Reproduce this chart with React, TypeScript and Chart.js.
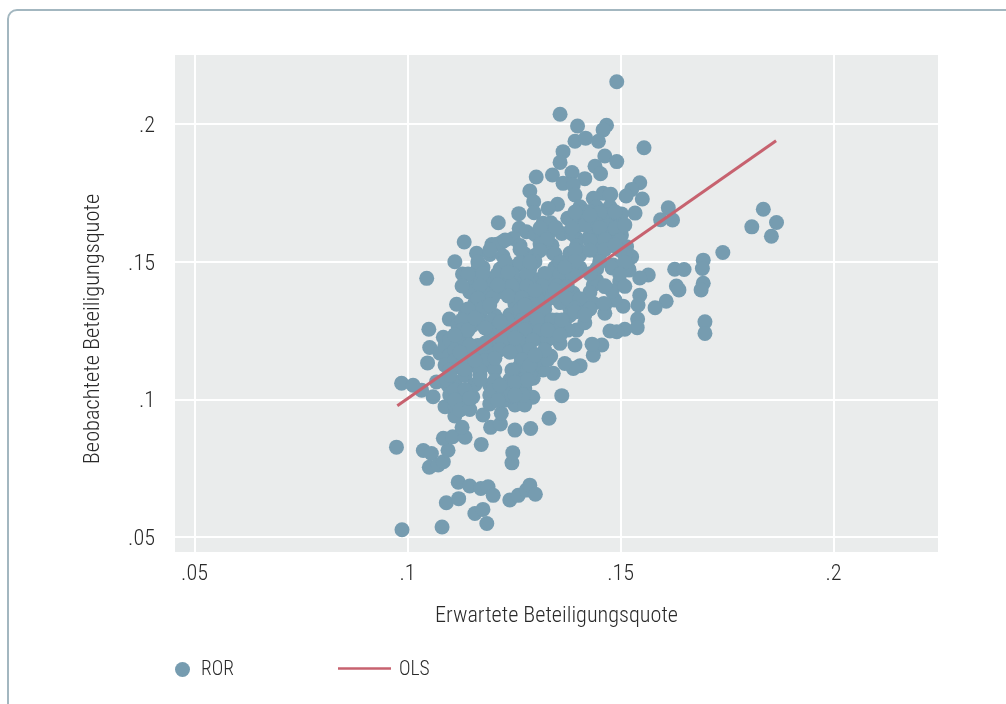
import React, { useEffect, useRef } from "react";
import { Chart, registerables } from "chart.js";

Chart.register(...registerables);

const FONT = '"Roboto Condensed", Roboto, sans-serif';
const DOT = "#769cb0";
const LINE = "#c7626f";
const INK = "#2a2a2a";

const xTicks = [0.05, 0.1, 0.15, 0.2];
const yTicks = [0.05, 0.1, 0.15, 0.2];
const xTitle = "Erwartete Beteiligungsquote";
const yTitle = "Beobachtete Beteiligungsquote";

const upperX = [.1491,.1358,.1399,.1467,.1459,.1393,.1418,.1448,.1555,.1365,.1358,.1463,.1491,.1440,.1453,.1302,.1340,.1386,.1416,.1365,.1389,.1545,.1526,.1513,.1551,.1287,.1393,.1459,.1477,.1436,.1296,.1352,.1330,.1534,.1502,.1261,.1297,.1612,.1594,.1622,.1213,.1133,.1111,.1162,.1198,.1222,.1262,.1318,.1336,.1376,.1405,.1420,.1443,.1475,.1482,.1502,.1514,.1526,.1397,.1362,.1279,.1248,.1166,.1129,.1045,.1494,.1475];
const upperY = [.2155,.2037,.1994,.1997,.1980,.1939,.1950,.1939,.1915,.1901,.1862,.1885,.1865,.1848,.1821,.1809,.1816,.1825,.1803,.1786,.1780,.1788,.1764,.1740,.1729,.1758,.1744,.1750,.1746,.1732,.1719,.1710,.1695,.1678,.1675,.1676,.1679,.1697,.1654,.1653,.1643,.1573,.1501,.1532,.1564,.1573,.1623,.1641,.1643,.1659,.1701,.1677,.1701,.1701,.1641,.1598,.1556,.1519,.1586,.1604,.1610,.1586,.1481,.1457,.1441,.1628,.1744];

const rightX = [.1835,.1866,.1808,.1854,.1740,.1694,.1692,.1694,.1689,.1631,.1637,.1607,.1581,.1698,.1698,.1627,.1649,.1565,.1545,.1518,.1482,.1545,.1541,.1540,.1539,.1510,.1491,.1475,.1456,.1506,.1487,.1463,.1463,.1463,.1498,.1520,.1522];
const rightY = [.1692,.1644,.1628,.1594,.1535,.1507,.1477,.1423,.1399,.1413,.1399,.1358,.1334,.1283,.1241,.1474,.1473,.1453,.1442,.1477,.1489,.1380,.1344,.1293,.1262,.1256,.1247,.1250,.1199,.1340,.1362,.1344,.1411,.1314,.1429,.1471,.1522];

const midX = [.1381,.1342,.1404,.1336,.1322,.1358,.1393,.1436,.1433,.1405,.1389,.1369,.1342,.1318,.1295,.1275,.1294,.1397,.1416,.1416,.1436,.1461,.1389,.1381,.1350,.1436];
const midY = [.1532,.1532,.1526,.1159,.1211,.1205,.1199,.1162,.1202,.1124,.1114,.1132,.1096,.1108,.1078,.1041,.1009,.1253,.1280,.1338,.1350,.1350,.1387,.1332,.1290,.1417];

const lowerX = [.0974,.0987,.1081,.1091,.1120,.1119,.1146,.1172,.1189,.1201,.1158,.1177,.1186,.1240,.1260,.1279,.1287,.1300,.1245,.1247,.1173,.1037,.1056,.1051,.1072,.1084,.1095,.1084,.1106,.1135,.1128,.1252,.1289,.1332,.1362,.1195,.1218,.1111,.1088,.1060,.1033,.1139,.1177,.1220,.1252,.1275,.1271,.1193,.1232,.1123,.1153];
const lowerY = [.0828,.0528,.0538,.0626,.0641,.0701,.0687,.0678,.0684,.0653,.0587,.0602,.0551,.0636,.0653,.0672,.0690,.0657,.0771,.0808,.0838,.0816,.0805,.0755,.0763,.0775,.0817,.0860,.0866,.0864,.0900,.0890,.0896,.0933,.1015,.0900,.0912,.0941,.0975,.1011,.1035,.0975,.0945,.0951,.0981,.0981,.1017,.1017,.0999,.1006,.1010];

const leftX = [.0986,.1013,.1047,.1052,.1050,.1084,.1098,.1115,.1146,.1135,.1076,.1107,.1068,.1111];
const leftY = [.1060,.1053,.1134,.1190,.1256,.1227,.1293,.1347,.1396,.1290,.1169,.1114,.1065,.1065];

const coreTopX = [.1299,.1329,.1386,.1428,.1463,.1494,.1210,.1264,.1311,.1339,.1397,.1444,.1480,.1193,.1224,.1275,.1299,.1346,.1381,.1451,.1510,.1177,.1217,.1252,.1287,.1346,.1381,.1404,.1444,.1480,.1510,.1400,.1430,.1455,.1470,.1460];
const coreTopY = [.1600,.1596,.1603,.1595,.1600,.1592,.1565,.1560,.1566,.1561,.1558,.1563,.1560,.1528,.1522,.1529,.1524,.1530,.1522,.1527,.1524,.1480,.1475,.1482,.1476,.1480,.1474,.1480,.1476,.1479,.1475,.1634,.1630,.1640,.1670,.1598];

const coreMidX = [.1158,.1193,.1229,.1264,.1299,.1334,.1369,.1393,.1444,.1146,.1182,.1217,.1252,.1287,.1322,.1358,.1428,.1480,.1158,.1193,.1252,.1287,.1322,.1358,.1389,.1135,.1170,.1205,.1240,.1275,.1311,.1381,.1118,.1151,.1189,.1224,.1259,.1294,.1329,.1358];
const coreMidY = [.1436,.1432,.1438,.1434,.1437,.1433,.1436,.1462,.1434,.1392,.1388,.1393,.1390,.1394,.1389,.1392,.1390,.1395,.1351,.1354,.1349,.1352,.1350,.1353,.1348,.1308,.1310,.1306,.1309,.1307,.1310,.1306,.1272,.1269,.1273,.1270,.1272,.1269,.1271,.1273];

const coreLowX = [.1111,.1135,.1205,.1240,.1275,.1311,.1088,.1123,.1165,.1198,.1236,.1275,.1099,.1135,.1170,.1205,.1264,.1299,.1088,.1123,.1158,.1193,.1264,.1299,.1099,.1135,.1170,.1252,.1287,.1095,.1158,.1193,.1229,.1099,.1217,.1245,.1111,.1193];
const coreLowY = [.1236,.1233,.1237,.1234,.1236,.1233,.1198,.1201,.1197,.1200,.1198,.1201,.1162,.1164,.1160,.1163,.1161,.1164,.1126,.1128,.1125,.1127,.1124,.1128,.1090,.1088,.1091,.1089,.1091,.1053,.1055,.1052,.1054,.1017,.1019,.1015,.0981,.0985];

const fillTopX = [.1405,.1428,.1451,.1487,.1416,.1446,.1470,.1311,.1348,.1386,.1451,.1487,.1229,.1327,.1428,.1463,.1498,.1193,.1264,.1311,.1393,.1428,.1463,.1498,.1165,.1229,.1264,.1299,.1358,.1393,.1451,.1510];
const fillTopY = [.1682,.1684,.1680,.1683,.1635,.1637,.1633,.1624,.1626,.1622,.1625,.1623,.1580,.1582,.1578,.1581,.1579,.1544,.1546,.1542,.1545,.1543,.1546,.1544,.1500,.1502,.1498,.1501,.1499,.1502,.1500,.1498];

const fillMidX = [.1142,.1177,.1210,.1245,.1280,.1322,.1358,.1386,.1428,.1498,.1128,.1170,.1210,.1245,.1280,.1316,.1351,.1375,.1463,.1510,.1165,.1200,.1236,.1268,.1304,.1339,.1374,.1404,.1142,.1177,.1264,.1299,.1322,.1393,.1428];
const fillMidY = [.1457,.1459,.1455,.1458,.1456,.1459,.1457,.1455,.1458,.1456,.1413,.1415,.1411,.1414,.1412,.1415,.1413,.1411,.1414,.1412,.1369,.1371,.1377,.1370,.1368,.1371,.1369,.1367,.1330,.1332,.1328,.1331,.1329,.1332,.1330];

const fillLowX = [.1128,.1165,.1198,.1233,.1268,.1304,.1339,.1369,.1128,.1205,.1240,.1275,.1311,.1346,.1376,.1099,.1193,.1224,.1259,.1294,.1329,.1111,.1146,.1184,.1217,.1252,.1287,.1111,.1146,.1182,.1268,.1304,.1329,.1099,.1135,.1170,.1205,.1252,.1282,.1092,.1170,.1205,.1240,.1268,.1111,.1135,.1200,.1240,.1111,.1146,.1212,.1123,.1146];
const fillLowY = [.1290,.1292,.1288,.1291,.1289,.1292,.1290,.1288,.1253,.1255,.1251,.1254,.1252,.1255,.1253,.1217,.1219,.1215,.1218,.1216,.1219,.1181,.1183,.1179,.1182,.1180,.1183,.1144,.1146,.1142,.1145,.1143,.1146,.1108,.1110,.1106,.1109,.1107,.1110,.1072,.1074,.1070,.1073,.1071,.1035,.1037,.1033,.1036,.0999,.1001,.0997,.0963,.0965];

const extraX = [.1212,.1236,.1299,.1275,.1217,.1252,.1182,.1142,.1146,.1182,.1240,.1158,.1205,.1245,.1217,.1252,.1287,.1322,.1329,.1362,.1393,.1346,.1369,.1287,.1193,.1158,.1111,.1123,.1099,.1146,.1252,.1282,.1299,.1358,.1416,.1510,.1487,.1428,.1393];
const extraY = [.1417,.1463,.1398,.1344,.1282,.1224,.1261,.1253,.1199,.1206,.1173,.1144,.1151,.1108,.1053,.1064,.1126,.1181,.1253,.1290,.1319,.1399,.1481,.1500,.1344,.1297,.1235,.1173,.1090,.1006,.1017,.1072,.1162,.1235,.1308,.1635,.1562,.1671,.1682];

const rorX = [...upperX, ...rightX, ...midX, ...lowerX, ...leftX, ...coreTopX, ...coreMidX, ...coreLowX, ...fillTopX, ...fillMidX, ...fillLowX, ...extraX];
const rorY = [...upperY, ...rightY, ...midY, ...lowerY, ...leftY, ...coreTopY, ...coreMidY, ...coreLowY, ...fillTopY, ...fillMidY, ...fillLowY, ...extraY];

const olsX = [0.0976, 0.1865];
const olsY = [0.0978, 0.1941];

const fmt = (v: number) => String(v).replace(/^0/, "");

const decor = {
  id: "decor",
  beforeDraw(chart: any) {
    const { ctx, chartArea: a } = chart;
    ctx.save();
    ctx.fillStyle = "#eaecec";
    ctx.fillRect(a.left, a.top, a.right - a.left, a.bottom - a.top);
    ctx.restore();
  },
  afterDraw(chart: any) {
    const { ctx } = chart;
    ctx.save();
    ctx.font = `300 22.4px ${FONT}`;
    ctx.fillStyle = INK;
    ctx.textBaseline = "middle";
    ctx.translate(93, 329);
    ctx.rotate(-Math.PI / 2);
    ctx.textAlign = "center";
    ctx.fillText(yTitle, 0, 0);
    ctx.restore();

    const ds = chart.data.datasets;
    ctx.save();
    ctx.font = `300 19.5px ${FONT}`;
    ctx.fillStyle = DOT;
    ctx.beginPath();
    ctx.arc(182.5, 669.5, 7.5, 0, Math.PI * 2);
    ctx.fill();
    ctx.strokeStyle = LINE;
    ctx.lineWidth = 2.5;
    ctx.beginPath();
    ctx.moveTo(338, 668.5);
    ctx.lineTo(391, 668.5);
    ctx.stroke();
    ctx.fillStyle = INK;
    ctx.textAlign = "left";
    ctx.textBaseline = "middle";
    ctx.fillText(ds[1].label, 201, 670);
    ctx.fillText(ds[0].label, 399, 670);
    ctx.restore();
  },
};

export default function App() {
  const ref = useRef<HTMLCanvasElement>(null);
  useEffect(() => {
    const tickFont = { family: FONT, size: 22.2, weight: "300" };
    const chart = new Chart(ref.current as HTMLCanvasElement, {
      type: "scatter",
      data: {
        datasets: [
          {
            type: "line",
            label: "OLS",
            data: olsX.map((x, i) => ({ x, y: olsY[i] })),
            borderColor: LINE,
            borderWidth: 3,
            pointRadius: 0,
            order: 0,
          },
          {
            type: "scatter",
            label: "ROR",
            data: rorX.map((x, i) => ({ x, y: rorY[i] })),
            backgroundColor: DOT,
            borderWidth: 0,
            pointRadius: 7.5,
            order: 1,
          },
        ],
      } as any,
      options: {
        animation: false,
        responsive: false,
        layout: { padding: { top: 55, right: 68, left: 0, bottom: 74 } },
        plugins: { legend: { display: false }, tooltip: { enabled: false } },
        scales: {
          x: {
            type: "linear",
            min: 0.04542,
            max: 0.2245,
            afterBuildTicks(s: any) {
              s.ticks = xTicks.map((value) => ({ value }));
            },
            afterFit(s: any) {
              s.height = 78;
            },
            grid: { color: "#ffffff", lineWidth: 2, drawTicks: false },
            border: { display: false },
            ticks: {
              padding: 9,
              color: INK,
              font: tickFont,
              maxRotation: 0,
              callback: (v: any) => fmt(v),
            },
            title: {
              display: true,
              text: xTitle,
              color: INK,
              font: tickFont,
              padding: { top: 0, bottom: 0 },
            },
          },
          y: {
            type: "linear",
            min: 0.04473,
            max: 0.2252,
            afterBuildTicks(s: any) {
              s.ticks = yTicks.map((value) => ({ value }));
            },
            afterFit(s: any) {
              s.width = 175;
            },
            grid: { color: "#ffffff", lineWidth: 2, drawTicks: false },
            border: { display: false },
            ticks: {
              padding: 20,
              labelOffset: 2,
              color: INK,
              font: tickFont,
              callback: (v: any) => fmt(v),
            },
          },
        },
      } as any,
      plugins: [decor],
    });
    return () => chart.destroy();
  }, []);

  return (
    <div style={{ position: "fixed", left: 0, top: 0, width: 1006, height: 704, overflow: "hidden", background: "#fff" }}>
      <div
        style={{
          position: "absolute",
          left: 7,
          top: 9,
          width: 1100,
          height: 800,
          border: "2px solid #a3b7c0",
          borderRadius: 10,
          boxSizing: "border-box",
        }}
      />
      <canvas ref={ref} width={1006} height={704} style={{ position: "absolute", left: 0, top: 0, display: "block" }} />
    </div>
  );
}
